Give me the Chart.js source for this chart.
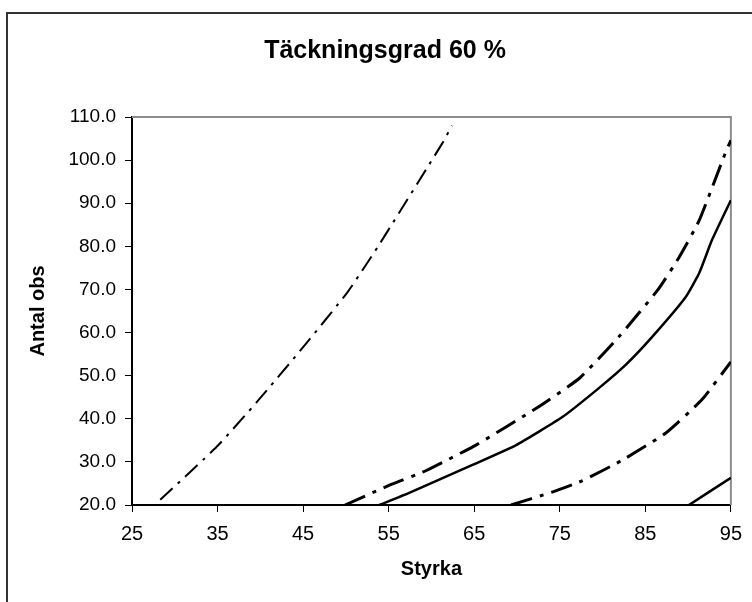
<!DOCTYPE html>
<html>
<head>
<meta charset="utf-8">
<script src="https://cdn.jsdelivr.net/npm/chart.js@4/dist/chart.umd.min.js"></script>
<style>
  body { margin: 0; background: #fff; }
  #wrap { position: relative; width: 752px; height: 602px; overflow: hidden; }
  #frame { position: absolute; left: 6px; top: 12px; width: 800px; height: 700px; border: 2px solid #333; }
  canvas { position: absolute; left: 0; top: 0; }
</style>
</head>
<body>
<div id="wrap">
  <div id="frame"></div>
  <canvas id="chart" width="752" height="602"></canvas>
</div>
<script>
// Styrka (x) and Antal obs (y) for each curve
let curveAx = [28.3, 34.9, 39.6, 45, 50.2, 53.7, 61.3, 62.4];
let curveAy = [21.2, 33.5, 43.9, 56.6, 69.4, 79.8, 104, 108];

let curveBx = [49.9, 55.1, 59.4, 65.2, 72.3, 77.3, 81.9, 86.5, 88.9, 91.3, 94.4, 95];
let curveBy = [20, 24.6, 28, 33.9, 42.5, 49.4, 59, 70, 77.3, 86, 101.9, 104.6];

let curveCx = [53.9, 57.4, 64.8, 69.9, 75.3, 79.5, 82.7, 85.8, 89.7, 91.3, 92.8, 95];
let curveCy = [20, 22.8, 29.3, 33.9, 40.4, 47, 52.5, 59, 68.2, 73.8, 81.5, 90.7];

let curveDx = [69.3, 74.1, 77.6, 82.3, 87.4, 91.6, 95];
let curveDy = [20, 23, 25.6, 30.4, 36.7, 44.4, 53.2];

let curveEx = [90.1, 95];
let curveEy = [20, 26.3];

let xTicks = [25, 35, 45, 55, 65, 75, 85, 95];

let chartTitle = "Täckningsgrad 60 %";

function pts(xs, ys) {
    return xs.map((x, i) => ({ x: x, y: ys[i] }));
}

// gray top and right border of the plot area, plus the title
const plotBorder = {
    id: "plotBorder",
    beforeDatasetsDraw(chart) {
        const { ctx, chartArea: a } = chart;
        ctx.save();
        ctx.strokeStyle = "#8c8c8c";
        ctx.lineWidth = 2;
        ctx.beginPath();
        ctx.moveTo(a.left, a.top);
        ctx.lineTo(a.right, a.top);
        ctx.lineTo(a.right, a.bottom);
        ctx.stroke();
        ctx.fillStyle = "#000";
        ctx.font = "bold 25px 'Liberation Sans', Arial";
        ctx.textAlign = "center";
        ctx.textBaseline = "middle";
        ctx.fillText(chartTitle, 385, 51);
        ctx.restore();
    },
};

let ctx = document.getElementById("chart").getContext("2d");

let chart = new Chart(ctx, {
    type: "scatter",
    data: {
        datasets: [
            { data: pts(curveAx, curveAy), borderWidth: 2, borderDash: [17, 7, 3, 7] },
            { data: pts(curveBx, curveBy), borderWidth: 3, borderDash: [22, 8, 4, 8] },
            { data: pts(curveCx, curveCy), borderWidth: 2.5 },
            { data: pts(curveDx, curveDy), borderWidth: 3, borderDash: [22, 8, 4, 8] },
            { data: pts(curveEx, curveEy), borderWidth: 2.5 },
        ].map((d) => ({
            ...d,
            showLine: true,
            borderColor: "#000",
            pointRadius: 0,
            tension: 0.15,
        })),
    },
    options: {
        responsive: false,
        animation: false,
        layout: { padding: { left: 0, right: 20, top: 117, bottom: 0 } },
        plugins: {
            legend: { display: false },
            tooltip: { enabled: false },
            title: { display: false },
        },
        scales: {
            x: {
                type: "linear",
                min: 25,
                max: 95,
                afterBuildTicks: (s) => { s.ticks = xTicks.map((v) => ({ value: v })); },
                ticks: {
                    color: "#000",
                    font: { family: "Liberation Sans, Arial", size: 20 },
                    padding: 10,
                    maxRotation: 0,
                },
                grid: { drawOnChartArea: false, color: "#000", tickLength: 7, tickColor: "#000" },
                border: { color: "#000", width: 2 },
                title: {
                    display: true,
                    text: "Styrka",
                    color: "#000",
                    font: { family: "Liberation Sans, Arial", size: 20, weight: "bold" },
                    padding: { bottom: 21 },
                },
                afterFit: (s) => { s.height = 97; },
            },
            y: {
                min: 20,
                max: 110,
                ticks: {
                    stepSize: 10,
                    color: "#000",
                    font: { family: "Liberation Sans, Arial", size: 19 },
                    padding: 9,
                    callback: (v) => v.toFixed(1),
                },
                grid: { drawOnChartArea: false, color: "#000", tickLength: 7, tickColor: "#000" },
                border: { color: "#000", width: 2 },
                title: {
                    display: true,
                    text: "Antal obs",
                    color: "#000",
                    font: { family: "Liberation Sans, Arial", size: 20, weight: "bold" },
                    padding: { top: 26 },
                },
                afterFit: (s) => { s.width = 132; },
            },
        },
    },
    plugins: [plotBorder],
});
</script>
</body>
</html>
